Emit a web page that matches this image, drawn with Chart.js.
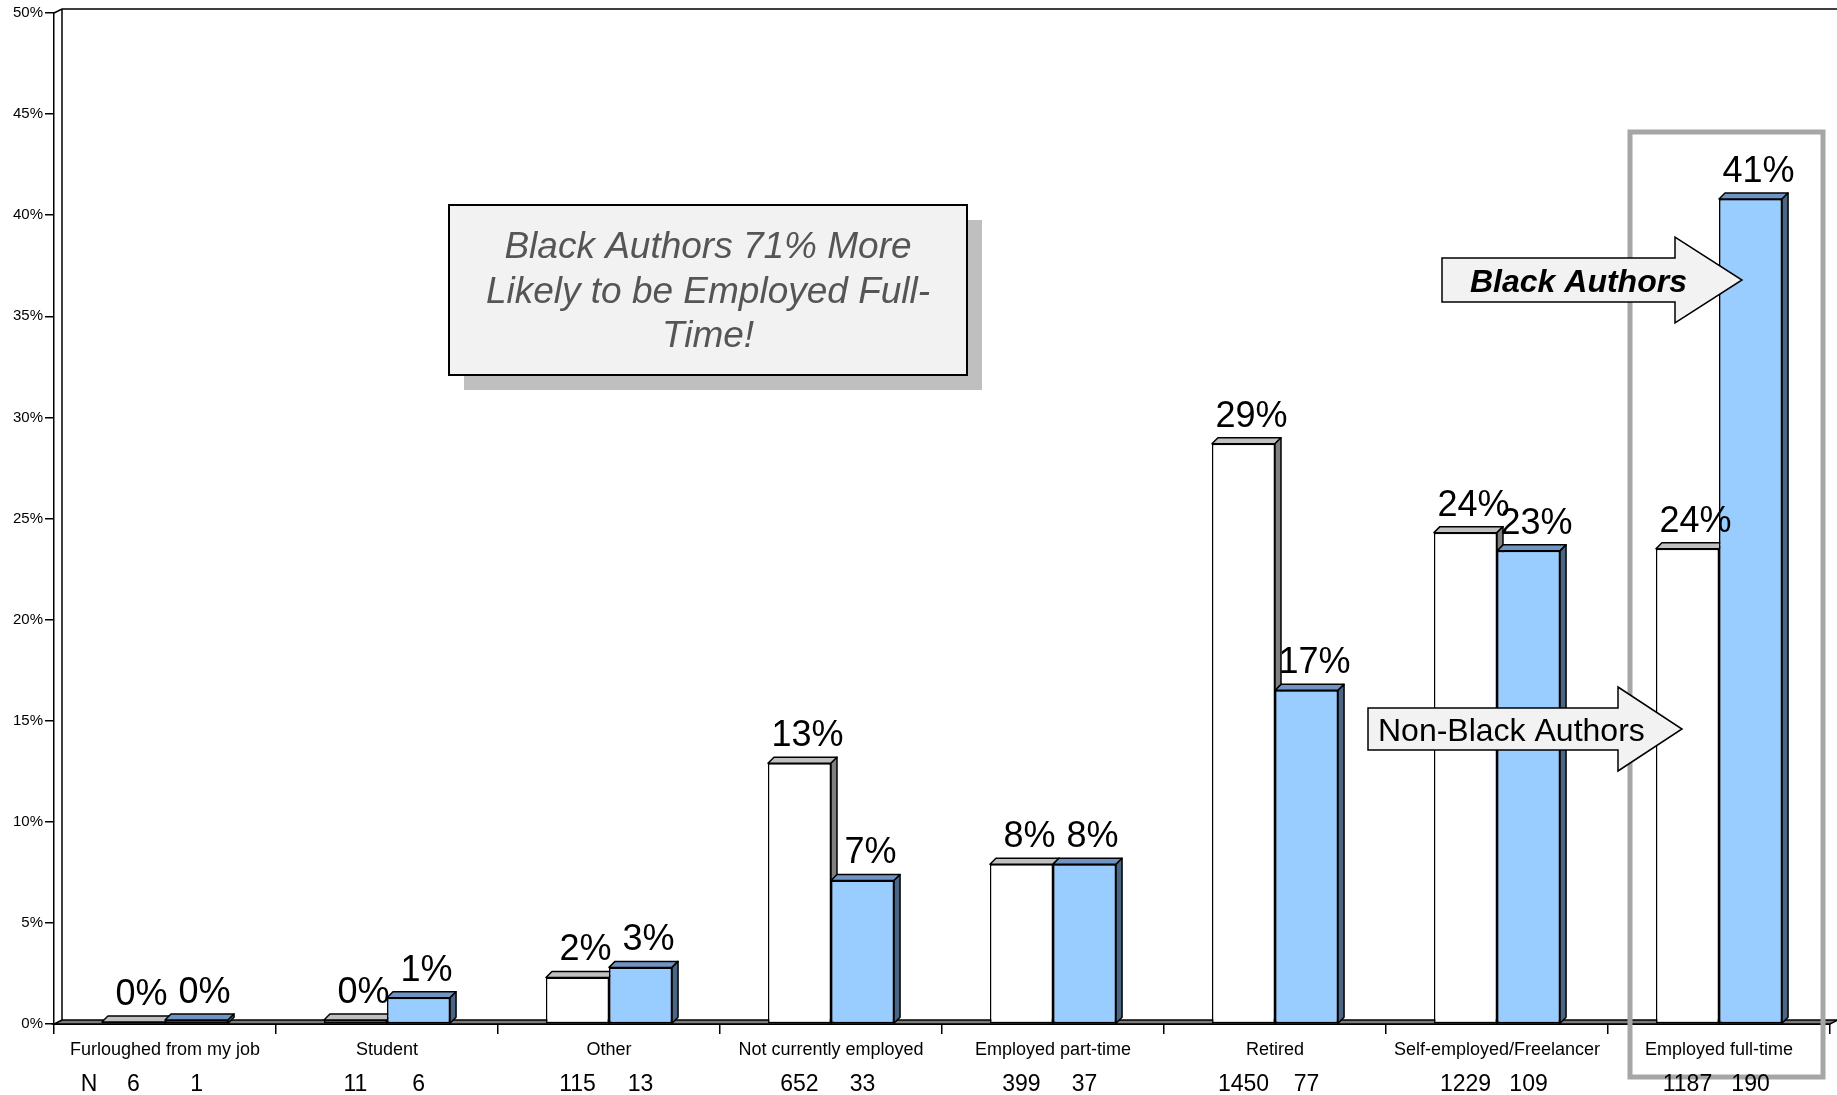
<!DOCTYPE html>
<html>
<head>
<meta charset="utf-8">
<script src="https://cdn.jsdelivr.net/npm/chart.js@4.4.1/dist/chart.umd.min.js"></script>
<style>
  html, body { margin: 0; padding: 0; background: #fff; }
  #wrap { width: 1837px; height: 1095px; position: relative; }
</style>
</head>
<body>
<div id="wrap"><canvas id="chart"></canvas></div>
<script>
const categories = [
  "Furloughed from my job", "Student", "Other", "Not currently employed",
  "Employed part-time", "Retired", "Self-employed/Freelancer", "Employed full-time"
];
const nonBlackPct = [0.1, 0.2, 2.3, 12.9, 7.9, 28.7, 24.3, 23.5];
const blackPct = [0.2, 1.3, 2.8, 7.1, 7.9, 16.5, 23.4, 40.8];
const nonBlackN = [6, 11, 115, 652, 399, 1450, 1229, 1187];
const blackN = [1, 6, 13, 33, 37, 77, 109, 190];
const yMax = 50;
const yStep = 5;

const FONT = "'Liberation Sans', Arial, sans-serif";
const BAR_DEPTH = 6;
const FLOOR_DX = 8, FLOOR_DY = 4;

// top + right side faces for a bar, so the flat bars look like boxes
function drawBoxSides(ctx, bar, topColor, sideColor) {
  const { x, y, base, width } = bar.getProps(["x", "y", "base", "width"], true);
  const l = x - width / 2, r = x + width / 2, d = BAR_DEPTH;
  ctx.save();
  ctx.lineWidth = 1.5;
  ctx.strokeStyle = "#000";
  ctx.lineJoin = "round";
  ctx.beginPath();
  ctx.moveTo(l, y);
  ctx.lineTo(l + d, y - d);
  ctx.lineTo(r + d, y - d);
  ctx.lineTo(r, y);
  ctx.closePath();
  ctx.fillStyle = topColor;
  ctx.fill();
  ctx.stroke();
  ctx.beginPath();
  ctx.moveTo(r, y);
  ctx.lineTo(r + d, y - d);
  ctx.lineTo(r + d, base - d);
  ctx.lineTo(r, base);
  ctx.closePath();
  ctx.fillStyle = sideColor;
  ctx.fill();
  ctx.stroke();
  ctx.restore();
}

function drawArrow(ctx, x0, x1, x2, yMid, bodyHalf, headHalf) {
  ctx.save();
  ctx.beginPath();
  ctx.moveTo(x0, yMid - bodyHalf);
  ctx.lineTo(x1, yMid - bodyHalf);
  ctx.lineTo(x1, yMid - headHalf);
  ctx.lineTo(x2, yMid);
  ctx.lineTo(x1, yMid + headHalf);
  ctx.lineTo(x1, yMid + bodyHalf);
  ctx.lineTo(x0, yMid + bodyHalf);
  ctx.closePath();
  ctx.fillStyle = "#f2f2f2";
  ctx.fill();
  ctx.lineWidth = 1.5;
  ctx.strokeStyle = "#000";
  ctx.stroke();
  ctx.restore();
}

const box3d = {
  id: "box3d",
  beforeDatasetsDraw(chart) {
    const ctx = chart.ctx;
    const { left, right, top, bottom } = chart.chartArea;
    ctx.save();
    ctx.lineWidth = 1.5;
    ctx.strokeStyle = "#000";
    // floor
    ctx.beginPath();
    ctx.moveTo(left, bottom);
    ctx.lineTo(right, bottom);
    ctx.lineTo(right + FLOOR_DX, bottom - FLOOR_DY);
    ctx.lineTo(left + FLOOR_DX, bottom - FLOOR_DY);
    ctx.closePath();
    ctx.fillStyle = "#7a7a7a";
    ctx.fill();
    ctx.stroke();
    // back wall edges
    ctx.beginPath();
    ctx.moveTo(left, top);
    ctx.lineTo(left + FLOOR_DX, top - FLOOR_DY);
    ctx.lineTo(chart.width, top - FLOOR_DY);
    ctx.moveTo(left + FLOOR_DX, top - FLOOR_DY);
    ctx.lineTo(left + FLOOR_DX, bottom - FLOOR_DY);
    ctx.stroke();
    ctx.restore();
  },
  afterDatasetsDraw(chart) {
    const ctx = chart.ctx;
    const white = chart.getDatasetMeta(0).data;
    const blue = chart.getDatasetMeta(1).data;
    white.forEach((b) => drawBoxSides(ctx, b, "#c0c0c0", "#808080"));
    blue.forEach((b) => {
      b.draw(ctx);
      drawBoxSides(ctx, b, "#7094c4", "#4b6584");
    });
    // value labels
    ctx.save();
    ctx.font = `36px ${FONT}`;
    ctx.fillStyle = "#000";
    ctx.textAlign = "center";
    ctx.textBaseline = "alphabetic";
    [[white, nonBlackPct], [blue, blackPct]].forEach(([bars, vals]) => {
      bars.forEach((b, i) => {
        ctx.fillText(Math.round(vals[i]) + "%", b.x + 8, b.y - 17);
      });
    });
    ctx.restore();
  },
  afterDraw(chart) {
    const ctx = chart.ctx;
    ctx.save();

    // callout box with shadow
    ctx.fillStyle = "#bfbfbf";
    ctx.fillRect(464, 220, 518, 170);
    ctx.fillStyle = "#f2f2f2";
    ctx.fillRect(449, 205, 518, 170);
    ctx.lineWidth = 2;
    ctx.strokeStyle = "#000";
    ctx.strokeRect(449, 205, 518, 170);
    ctx.font = `italic 37px ${FONT}`;
    ctx.fillStyle = "#555555";
    ctx.textAlign = "center";
    ctx.fillText("Black Authors 71% More", 708, 258);
    ctx.fillText("Likely to be Employed Full-", 708, 303);
    ctx.fillText("Time!", 708, 347);

    // highlight frame around the last category
    ctx.lineWidth = 5;
    ctx.strokeStyle = "#a6a6a6";
    ctx.strokeRect(1630, 132, 193, 945);

    // series arrows
    drawArrow(ctx, 1442, 1675, 1742, 280, 22, 43);
    ctx.font = `italic bold 32px ${FONT}`;
    ctx.fillStyle = "#000";
    ctx.textAlign = "left";
    ctx.fillText("Black Authors", 1470, 292);

    drawArrow(ctx, 1368, 1618, 1682, 729, 21, 42);
    ctx.font = `32px ${FONT}`;
    ctx.fillStyle = "#000";
    ctx.fillText("Non-Black Authors", 1378, 741);

    // respondent counts under each bar
    const white = chart.getDatasetMeta(0).data;
    const blue = chart.getDatasetMeta(1).data;
    ctx.font = `23px ${FONT}`;
    ctx.fillStyle = "#000";
    ctx.textAlign = "center";
    ctx.textBaseline = "middle";
    ctx.fillText("N", 89, 1085);
    white.forEach((b, i) => ctx.fillText(String(nonBlackN[i]), b.x, 1085));
    blue.forEach((b, i) => ctx.fillText(String(blackN[i]), b.x, 1085));
    ctx.restore();
  }
};

const ctx = document.getElementById("chart").getContext("2d");
new Chart(ctx, {
  type: "bar",
  data: {
    labels: categories,
    datasets: [
      {
        label: "Non-Black Authors",
        data: nonBlackPct,
        backgroundColor: "#ffffff",
        borderColor: "#000",
        borderWidth: 1.5,
        borderSkipped: false,
      },
      {
        label: "Black Authors",
        data: blackPct,
        backgroundColor: "#99ccff",
        borderColor: "#000",
        borderWidth: 1.5,
        borderSkipped: false,
      },
    ],
  },
  options: {
    responsive: true,
    maintainAspectRatio: false,
    animation: false,
    categoryPercentage: 0.568,
    barPercentage: 1,
    layout: { padding: { top: 13, right: 7, left: 0, bottom: 0 } },
    plugins: {
      legend: { display: false },
      tooltip: { enabled: false },
    },
    scales: {
      x: {
        grid: {
          display: true,
          drawOnChartArea: false,
          drawTicks: true,
          tickLength: 10,
          offset: true,
          color: "#000",
          lineWidth: 1.5,
        },
        border: { display: true, color: "#000", width: 2 },
        ticks: {
          font: { family: FONT, size: 18 },
          color: "#000",
          padding: 5,
          maxRotation: 0,
          autoSkip: false,
        },
        afterFit(scale) {
          scale.height = 71;
        },
      },
      y: {
        min: 0,
        max: yMax,
        grid: {
          display: true,
          drawOnChartArea: false,
          drawTicks: true,
          tickLength: 9,
          color: "#000",
          lineWidth: 1.5,
        },
        border: { display: true, color: "#000", width: 1.5 },
        ticks: {
          stepSize: yStep,
          font: { family: FONT, size: 15 },
          color: "#000",
          padding: 2,
          callback: (v) => v + "%",
        },
        afterFit(scale) {
          scale.width = 54;
        },
      },
    },
  },
  plugins: [box3d],
});
</script>
</body>
</html>
